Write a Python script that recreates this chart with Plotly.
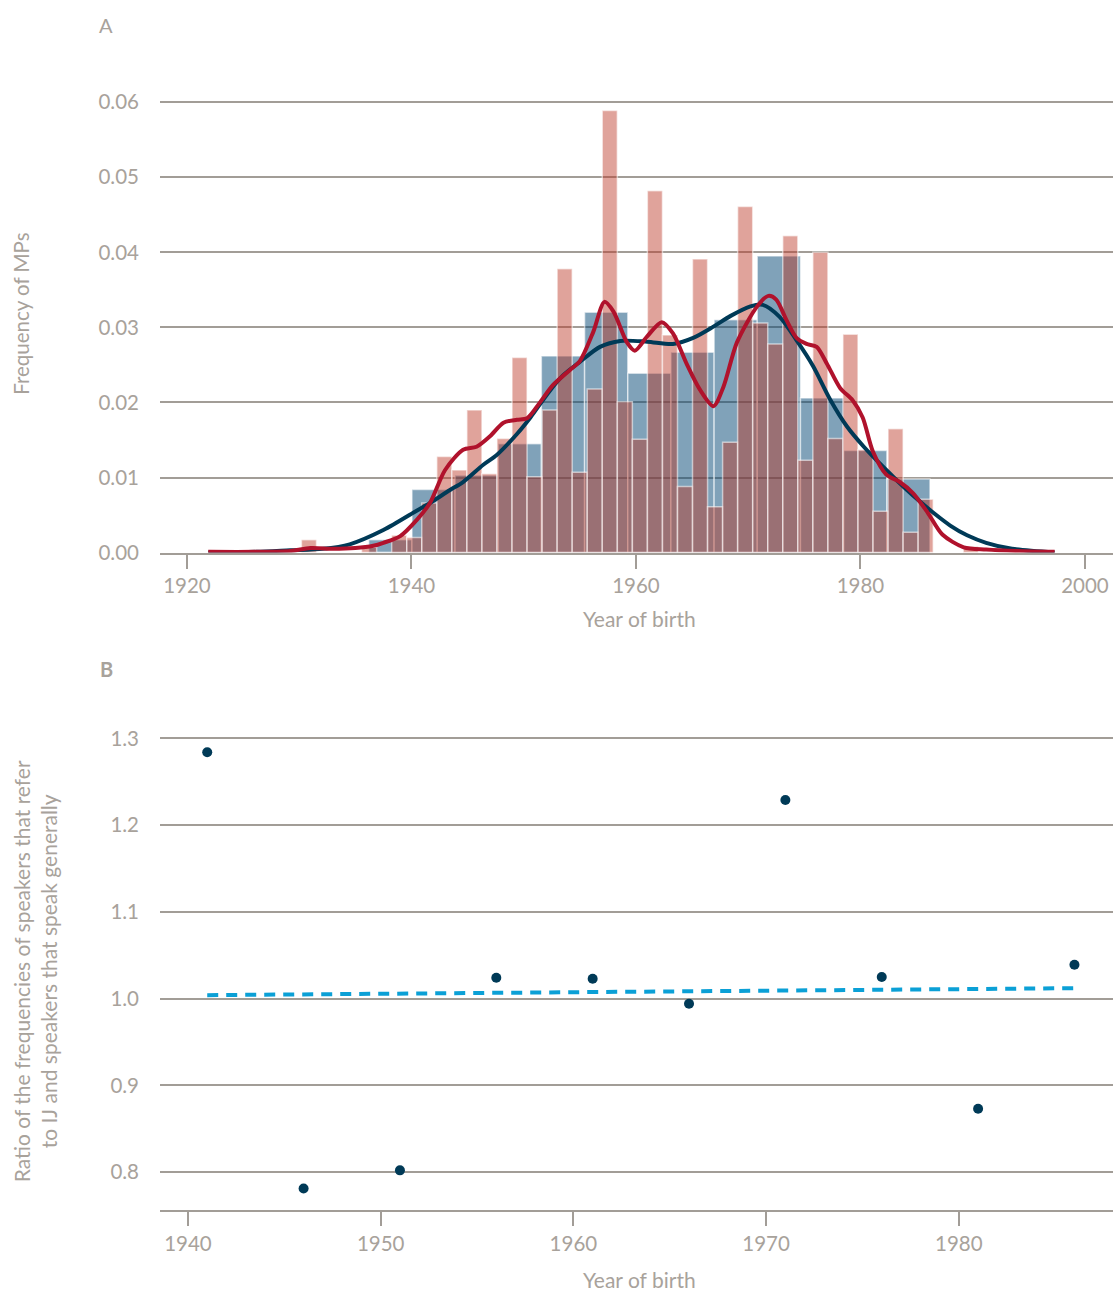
import plotly.graph_objects as go

# ---------------- Data: panel A ----------------
# Histogram of all MPs (blue, wide bins)
blue_bin_centers = [1938.12, 1941.97, 1945.81, 1949.66, 1953.50, 1957.35, 1961.20,
                    1965.04, 1968.89, 1972.73, 1976.58, 1980.43, 1984.27]
blue_bin_width = 3.846
blue_density = [0.0017, 0.0084, 0.0103, 0.0145, 0.0262, 0.0320, 0.0239,
                0.0267, 0.0310, 0.0395, 0.0206, 0.0136, 0.0098]

# Histogram of MPs referring to IJ (red, narrow bins)
red_bin_centers = [1930.87, 1932.21, 1933.55, 1934.89, 1936.23, 1937.57, 1938.91, 1940.25,
                   1941.59, 1942.93, 1944.27, 1945.61, 1946.95, 1948.29, 1949.63, 1950.97,
                   1952.31, 1953.65, 1954.99, 1956.33, 1957.67, 1959.01, 1960.35, 1961.69,
                   1963.03, 1964.37, 1965.71, 1967.05, 1968.39, 1969.73, 1971.07, 1972.41,
                   1973.75, 1975.09, 1976.43, 1977.77, 1979.11, 1980.45, 1981.79, 1983.13,
                   1984.47, 1985.81, 1987.15, 1988.49, 1989.83]
red_bin_width = 1.34
red_density = [0.0017, 0.0, 0.0, 0.0, 0.0007, 0.0, 0.0023, 0.0020,
               0.0066, 0.0128, 0.0110, 0.0190, 0.0105, 0.0152, 0.0260, 0.0101,
               0.0190, 0.0378, 0.0107, 0.0218, 0.0589, 0.0201, 0.0151, 0.0482,
               0.0290, 0.0088, 0.0391, 0.0061, 0.0147, 0.0461, 0.0306, 0.0278,
               0.0422, 0.0123, 0.0400, 0.0152, 0.0291, 0.0137, 0.0055, 0.0165,
               0.0027, 0.0071, 0.0, 0.0, 0.0008]

# Kernel density curves
blue_kde_x = [1921.9, 1926.2, 1929.2, 1932.1, 1934.5, 1937.5, 1940.5, 1941.65, 1943.4,
              1944.6, 1946.4, 1947.6, 1949.4, 1950.6, 1952.3, 1953.5, 1955.0, 1956.8,
              1958.6, 1961.0, 1963.3, 1965.1, 1966.9, 1968.4, 1970.2, 1971.3, 1972.8,
              1974.3, 1975.8, 1977.3, 1978.8, 1980.3, 1981.7, 1984.1, 1985.3, 1986.5,
              1988.0, 1989.5, 1991.2, 1993.5, 1997.3]
blue_kde_y = [0.0, 0.0001, 0.0003, 0.0005, 0.0011, 0.0030, 0.0056, 0.0066, 0.0083,
              0.0094, 0.0117, 0.0130, 0.0158, 0.0180, 0.0215, 0.0236, 0.0254, 0.0274,
              0.0282, 0.0281, 0.0278, 0.0286, 0.0301, 0.0315, 0.0328, 0.0330, 0.0314,
              0.0283, 0.0248, 0.0204, 0.0168, 0.0141, 0.0119, 0.0084, 0.0068, 0.0053,
              0.0036, 0.0023, 0.0013, 0.0005, 0.0]

red_kde_x = [1921.9, 1926.0, 1929.2, 1931.0, 1933.0, 1935.0, 1936.6, 1937.5, 1939.0,
             1940.5, 1941.65, 1943.0, 1944.6, 1945.8, 1947.0, 1948.2, 1949.4, 1950.3,
             1951.4, 1952.6, 1954.1, 1955.0, 1956.2, 1957.2, 1958.0, 1959.2, 1959.9,
             1961.0, 1962.3, 1963.3, 1964.5, 1965.7, 1966.9, 1967.8, 1969.0, 1970.8,
             1971.8, 1972.5, 1973.4, 1974.3, 1975.2, 1976.1, 1977.0, 1978.2, 1979.3,
             1980.2, 1981.1, 1982.3, 1983.5, 1984.7, 1986.0, 1987.3, 1989.2, 1991.2,
             1994.0, 1997.3]
red_kde_y = [0.0001, 0.0001, 0.0002, 0.0006, 0.0005, 0.0006, 0.0009, 0.0013, 0.0022,
             0.0044, 0.0066, 0.0110, 0.0137, 0.0141, 0.0155, 0.0173, 0.0177, 0.0179,
             0.0199, 0.0223, 0.0243, 0.0255, 0.0294, 0.0334, 0.0321, 0.0280, 0.0269,
             0.0288, 0.0307, 0.0292, 0.0252, 0.0217, 0.0195, 0.0221, 0.0280, 0.0328,
             0.0342, 0.0337, 0.0310, 0.0286, 0.0278, 0.0274, 0.0252, 0.0219, 0.0203,
             0.0180, 0.0135, 0.0104, 0.0094, 0.0079, 0.0053, 0.0024, 0.0007, 0.0004,
             0.0002, 0.0001]

# ---------------- Data: panel B ----------------
cohort_years = [1941, 1946, 1951, 1956, 1961, 1966, 1971, 1976, 1981, 1986]
ratio_values = [1.284, 0.781, 0.802, 1.024, 1.023, 0.994, 1.229, 1.025, 0.873, 1.039]
trend_years = [1941, 1986]
trend_values = [1.004, 1.012]

top_xticks = [1920, 1940, 1960, 1980, 2000]
top_yticks = [0.0, 0.01, 0.02, 0.03, 0.04, 0.05, 0.06]
bot_xticks = [1940, 1950, 1960, 1970, 1980]
bot_yticks = [0.8, 0.9, 1.0, 1.1, 1.2, 1.3]

# ---------------- Styling ----------------
W, H = 1113, 1300
VSCALE = 1300 / 1290
GRAY_TXT = "#a8a29b"
GRID = "#a29d97"
NAVY = "#003a57"
RED = "#b0122c"
FONT = "Lato"

def px_x(p):
    return p / W

def px_y(p):
    return max(0.0, 1 - p * VSCALE / H)

fig = go.Figure()

fig.add_trace(go.Bar(
    x=blue_bin_centers, y=blue_density, width=blue_bin_width,
    marker=dict(color="rgba(2,70,115,0.5)", line=dict(color="rgba(255,255,255,0.55)", width=1.5)),
    xaxis="x", yaxis="y", showlegend=False, hoverinfo="skip"))
fig.add_trace(go.Bar(
    x=red_bin_centers, y=red_density, width=red_bin_width,
    marker=dict(color="rgba(186,51,33,0.45)", line=dict(color="rgba(255,255,255,0.55)", width=1.5)),
    xaxis="x", yaxis="y", showlegend=False, hoverinfo="skip"))
fig.add_trace(go.Scatter(
    x=blue_kde_x, y=blue_kde_y, mode="lines",
    line=dict(color=NAVY, width=4, shape="spline", smoothing=0.8),
    xaxis="x", yaxis="y", showlegend=False, hoverinfo="skip"))
fig.add_trace(go.Scatter(
    x=red_kde_x, y=red_kde_y, mode="lines",
    line=dict(color=RED, width=4, shape="spline", smoothing=0.8),
    xaxis="x", yaxis="y", showlegend=False, hoverinfo="skip"))

fig.add_trace(go.Scatter(
    x=trend_years, y=trend_values, mode="lines",
    line=dict(color="#0ba0d6", width=4, dash="11px,8px"),
    xaxis="x2", yaxis="y2", showlegend=False, hoverinfo="skip"))
fig.add_trace(go.Scatter(
    x=cohort_years, y=ratio_values, mode="markers",
    marker=dict(color=NAVY, size=10),
    xaxis="x2", yaxis="y2", showlegend=False))

tickfont = dict(family=FONT, size=20.5, color=GRAY_TXT)
dom_x = [px_x(160), 1.0]

xcommon = dict(showgrid=False, zeroline=False, showline=True, linecolor=GRID, linewidth=2,
               ticks="outside", ticklen=14, tickwidth=2, tickcolor=GRID, tickfont=tickfont)
ycommon = dict(showgrid=True, gridcolor=GRID, gridwidth=2, zeroline=False, showline=False,
               ticks="", tickfont=tickfont, ticklabelstandoff=20)

fig.update_layout(
    width=W, height=H, autosize=False,
    margin=dict(l=0, r=0, t=0, b=0),
    paper_bgcolor="white", plot_bgcolor="white",
    barmode="overlay",
    font=dict(family=FONT, color=GRAY_TXT),
    xaxis=dict(domain=dom_x, range=[1917.6, 2002.5], tickvals=top_xticks, anchor="y", **xcommon),
    yaxis=dict(domain=[px_y(553), px_y(85)], range=[0, 0.0623], tickvals=top_yticks,
               tickformat=".2f", anchor="x", **ycommon),
    xaxis2=dict(domain=dom_x, range=[1938.55, 1988.0], tickvals=bot_xticks, anchor="y2", **xcommon),
    yaxis2=dict(domain=[px_y(1211), px_y(720)], range=[0.7562, 1.3219], tickvals=bot_yticks,
                tickformat=".1f", anchor="x2", **ycommon),
)

TXT = dict(family=FONT, size=21, color=GRAY_TXT)
annots = [
    dict(text="A", x=px_x(106), y=px_y(25), font=dict(family=FONT, size=20, color=GRAY_TXT)),
    dict(text="<b>B</b>", x=px_x(106), y=px_y(670), font=dict(family=FONT, size=20, color=GRAY_TXT)),
    dict(text="Year of birth", x=px_x(639), y=px_y(619), font=TXT),
    dict(text="Year of birth", x=px_x(639), y=px_y(1280), font=TXT),
    dict(text="Frequency of MPs", x=px_x(21), y=px_y(314), textangle=-90,
         font=dict(family=FONT, size=20.5, color=GRAY_TXT)),
    dict(text="Ratio of the frequencies of speakers that refer<br>to IJ and speakers that speak generally",
         x=px_x(35), y=px_y(972), textangle=-90,
         font=dict(family=FONT, size=21, color=GRAY_TXT)),
]
for a in annots:
    fig.add_annotation(xref="paper", yref="paper", showarrow=False,
                       xanchor="center", yanchor="middle", **a)

fig.write_html("out.html",
               config={"displayModeBar": False, "responsive": False},
               post_script="document.body.style.margin='0';")
